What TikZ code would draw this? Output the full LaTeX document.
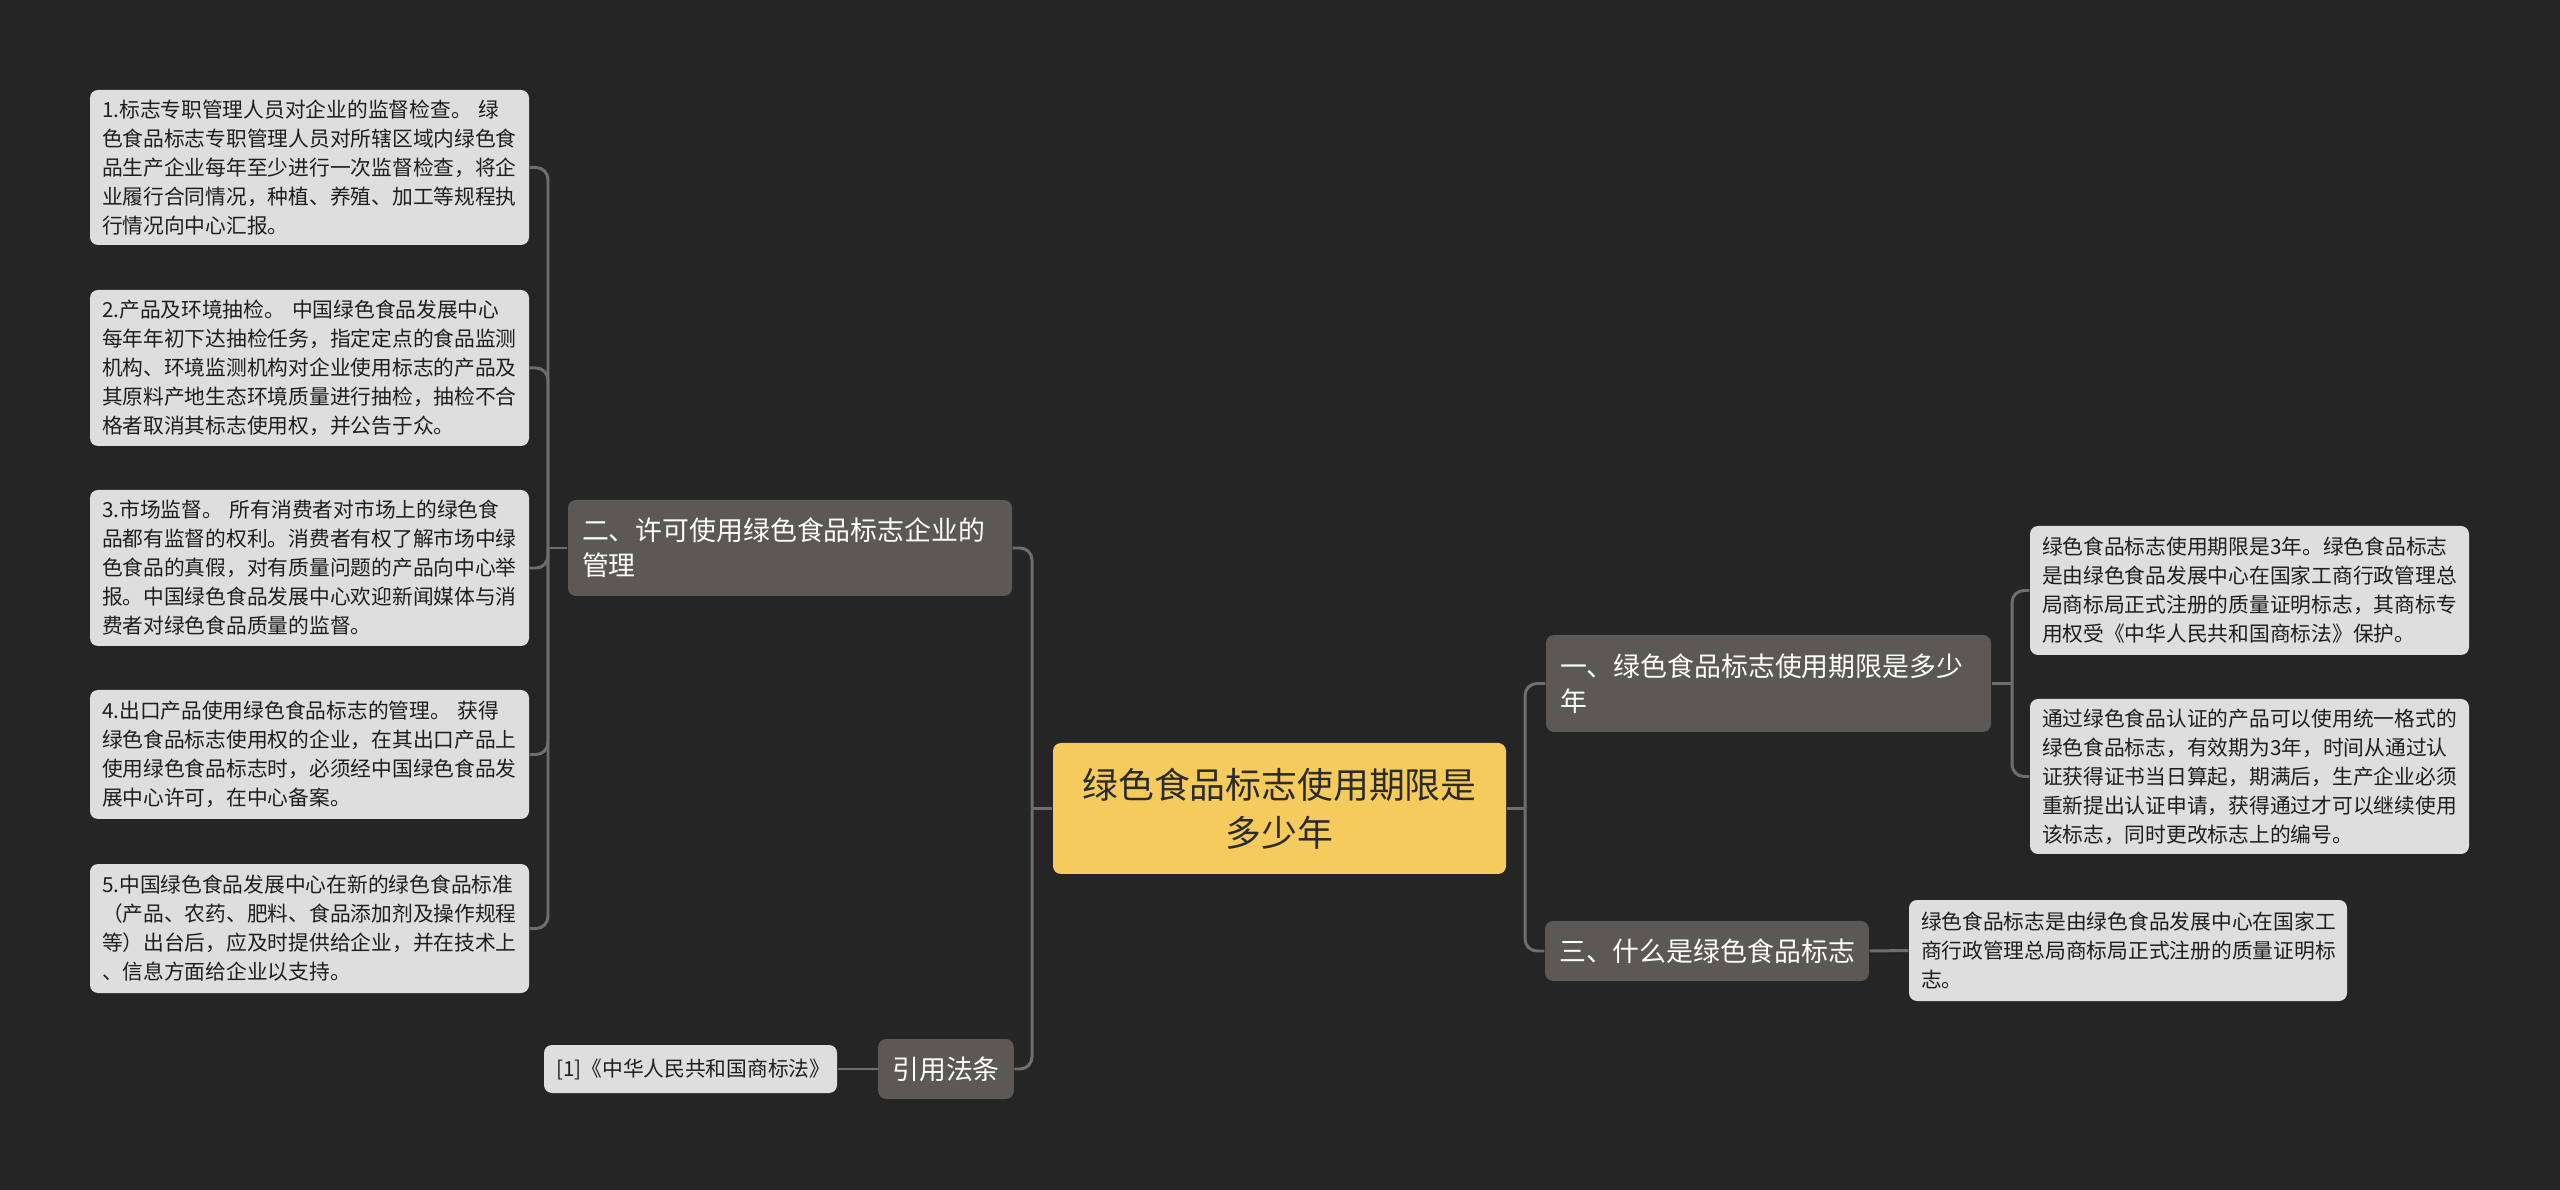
\documentclass[tikz,border=0pt]{standalone}
\usepackage{fontspec}
\setmainfont{Noto Sans CJK SC}
\definecolor{bgcol}{HTML}{252525}
\definecolor{leafcol}{HTML}{DEDEDE}
\definecolor{leaftext}{HTML}{1E1E1E}
\definecolor{branchcol}{HTML}{5B5856}
\definecolor{rootcol}{HTML}{F4CB5C}
\definecolor{roottext}{HTML}{2B2B2B}
\definecolor{conncol}{HTML}{6E6E6E}

\begin{document}
\begin{tikzpicture}[
		leafbox/.style={fill=leafcol, rounded corners=0.08cm, text=leaftext, align=left, text width=4.15cm, inner xsep=0.12cm, inner ysep=0pt, font=\fontsize{5.9}{8.25}\selectfont},
		branchbox/.style={fill=branchcol, rounded corners=0.08cm, text=white, align=left, inner xsep=0.14cm, inner ysep=0pt, font=\fontsize{7.65}{9.96}\selectfont},
		rootbox/.style={fill=rootcol, rounded corners=0.08cm, text=roottext, align=center, inner sep=0pt, font=\fontsize{10.2}{13.66}\selectfont},
		link/.style={draw=conncol, line width=0.85pt, rounded corners=0.12cm}
	]
		% Background
		\fill[bgcol] (0, 0) rectangle (25.6, -11.9);
		\useasboundingbox (0, 0) rectangle (25.6, -11.9);
		
		% Root
		\node[rootbox, minimum width=4.53cm, minimum height=1.31cm] (root) at (12.795, -8.085) {绿色食品标志使用期限是\\多少年};
		
		% Branches
		\node[branchbox, text width=4.16cm, minimum height=0.96cm] (b2) at (7.90, -5.48) {二、许可使用绿色食品标志企业的\\管理};
		\node[branchbox, align=center, minimum width=1.32cm, minimum height=0.60cm] (ref) at (9.46, -10.69) {引用法条};
		\node[branchbox, text width=4.17cm, minimum height=0.97cm] (b1) at (17.685, -6.835) {一、绿色食品标志使用期限是多少\\年};
		\node[branchbox, align=center, minimum width=3.22cm, minimum height=0.60cm] (b3) at (17.07, -9.51) {三、什么是绿色食品标志};
		
		% Leaves (left)
		\node[leafbox, minimum height=1.55cm] (l1) at (3.095, -1.675) {1.标志专职管理人员对企业的监督检查。 绿\\色食品标志专职管理人员对所辖区域内绿色食\\品生产企业每年至少进行一次监督检查，将企\\业履行合同情况，种植、养殖、加工等规程执\\行情况向中心汇报。};
		\node[leafbox, minimum height=1.56cm] (l2) at (3.095, -3.68) {2.产品及环境抽检。 中国绿色食品发展中心\\每年年初下达抽检任务，指定定点的食品监测\\机构、环境监测机构对企业使用标志的产品及\\其原料产地生态环境质量进行抽检，抽检不合\\格者取消其标志使用权，并公告于众。};
		\node[leafbox, minimum height=1.56cm] (l3) at (3.095, -5.68) {3.市场监督。 所有消费者对市场上的绿色食\\品都有监督的权利。消费者有权了解市场中绿\\色食品的真假，对有质量问题的产品向中心举\\报。中国绿色食品发展中心欢迎新闻媒体与消\\费者对绿色食品质量的监督。};
		\node[leafbox, minimum height=1.29cm] (l4) at (3.095, -7.545) {4.出口产品使用绿色食品标志的管理。 获得\\绿色食品标志使用权的企业，在其出口产品上\\使用绿色食品标志时，必须经中国绿色食品发\\展中心许可，在中心备案。};
		\node[leafbox, minimum height=1.29cm] (l5) at (3.095, -9.285) {5.中国绿色食品发展中心在新的绿色食品标准\\（产品、农药、肥料、食品添加剂及操作规程\\等）出台后，应及时提供给企业，并在技术上\\、信息方面给企业以支持。};
		\node[leafbox, text width=2.69cm, minimum height=0.48cm] (law) at (6.905, -10.69) {[1]《中华人民共和国商标法》};
		
		% Leaves (right)
		\node[leafbox, minimum height=1.29cm] (la) at (22.495, -5.905) {绿色食品标志使用期限是3年。绿色食品标志\\是由绿色食品发展中心在国家工商行政管理总\\局商标局正式注册的质量证明标志，其商标专\\用权受《中华人民共和国商标法》保护。};
		\node[leafbox, minimum height=1.55cm] (lb) at (22.495, -7.765) {通过绿色食品认证的产品可以使用统一格式的\\绿色食品标志，有效期为3年，时间从通过认\\证获得证书当日算起，期满后，生产企业必须\\重新提出认证申请，获得通过才可以继续使用\\该标志，同时更改标志上的编号。};
		\node[leafbox, text width=4.14cm, minimum height=1.01cm] (lc) at (21.28, -9.505) {绿色食品标志是由绿色食品发展中心在国家工\\商行政管理总局商标局正式注册的质量证明标\\志。};
		
		% Connectors
		\coordinate (tL) at (10.32, -8.085);
		\coordinate (tR) at (15.25, -8.085);
		\coordinate (t2) at (5.48, -5.48);
		\coordinate (t1) at (20.12, -6.835);
		
		\draw[link] (root.west) -- (tL);
		\draw[link] (tL) |- (b2.east);
		\draw[link] (tL) |- (ref.east);
		\draw[link] (root.east) -- (tR);
		\draw[link] (tR) |- (b1.west);
		\draw[link] (tR) |- (b3.west);
		
		\draw[link] (b2.west) -- (t2);
		\foreach \n in {l1, l2, l3, l4, l5}
			\draw[link] (t2) |- (\n.east);
		\draw[link] (ref.west) -- (law.east);
		
		\draw[link] (b1.east) -- (t1);
		\draw[link] (t1) |- (la.west);
		\draw[link] (t1) |- (lb.west);
		\draw[link] (b3.east) -- (lc.west);
	\end{tikzpicture}
\end{document}
